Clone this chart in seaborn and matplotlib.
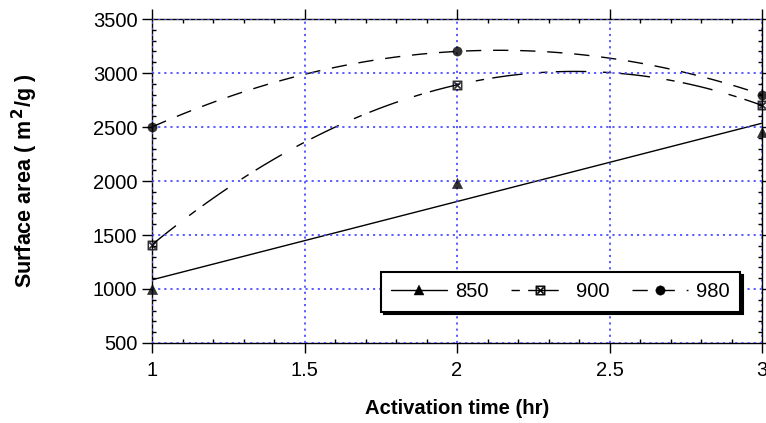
import matplotlib
matplotlib.use("Agg")
import matplotlib.pyplot as plt
from matplotlib.lines import Line2D
from matplotlib.ticker import MultipleLocator
import seaborn as sns
import pandas as pd

# ---- data ----
activation_time = [1, 2, 3]
area_850 = [1000, 1980, 2450]
area_900 = [1410, 2890, 2700]
area_980 = [2500, 3200, 2800]
series_names = ["850", "900", "980"]
fit_orders = [1, 2, 2]
x_ticks = [1, 1.5, 2, 2.5, 3]
y_ticks = [500, 1000, 1500, 2000, 2500, 3000, 3500]

sns.set_theme(style="white")
plt.rcParams["font.family"] = ["Liberation Sans", "DejaVu Sans"]
plt.rcParams["mathtext.fontset"] = "dejavusans"
plt.rcParams["text.color"] = "black"
plt.rcParams["axes.labelcolor"] = "black"
plt.rcParams["xtick.color"] = "black"
plt.rcParams["ytick.color"] = "black"

fig = plt.figure(figsize=(7.66, 4.23), dpi=100)
fig.subplots_adjust(left=152/766, right=762/766, top=1-19/423, bottom=1-343/423)
ax = fig.add_subplot(111)

styles = [
    dict(marker="^", s=55, ls="-", dashes=None, leg_offset=0),
    dict(marker=r"$\boxtimes$", s=45, ls="--", dashes=(22, 12, 6, 6), leg_offset=34),
    dict(marker="o", s=45, ls="--", dashes=(11, 8.5), leg_offset=0),
]
series = [area_850, area_900, area_980]

handles = []
for name, vals, order, st in zip(series_names, series, fit_orders, styles):
    df = pd.DataFrame({"t": activation_time, "a": vals})
    line_kws = dict(lw=1.0, color="black", linestyle=st["ls"])
    if st["dashes"] is not None:
        line_kws["dashes"] = st["dashes"]
    sns.regplot(data=df, x="t", y="a", order=order, ci=None, truncate=True,
                marker=st["marker"], color="black", ax=ax,
                scatter_kws=dict(s=st["s"], color="black", zorder=4, linewidths=0.3,
                                 clip_on=False),
                line_kws=line_kws)
    h = Line2D([], [], color="black", lw=1.0, linestyle=st["ls"],
               marker=st["marker"], markersize=(st["s"] ** 0.5),
               markerfacecolor="black", markeredgecolor="black", markeredgewidth=0.3)
    if st["dashes"] is not None:
        h.set_linestyle((st["leg_offset"], st["dashes"]))
    handles.append(h)

ax.set_xlim(1, 3)
ax.set_ylim(500, 3500)
ax.set_xticks(x_ticks)
ax.set_xticklabels([f"{v:g}" for v in x_ticks])
ax.set_yticks(y_ticks)
ax.xaxis.set_minor_locator(MultipleLocator(0.1))
ax.yaxis.set_minor_locator(MultipleLocator(100))

ax.grid(True, which="major", color="#5050ff", linestyle=(0, (1.2, 2.2)), lw=1.3)
ax.set_axisbelow(False)

for sp in ax.spines.values():
    sp.set_visible(True)
    sp.set_color("black")
    sp.set_linewidth(1.0)

ax.tick_params(which="major", direction="out", length=7, width=1, color="black",
               labelcolor="black", labelsize=14.5, top=True, right=True,
               bottom=True, left=True, labeltop=False, labelright=False)
ax.tick_params(axis="x", which="major", pad=6)
ax.tick_params(axis="y", which="major", pad=3.5)
ax.tick_params(which="minor", direction="in", length=3, width=1, color="black",
               top=True, right=True, bottom=True, left=True)

ax.set_xlabel("Activation time (hr)", fontsize=14.6, fontweight="bold", labelpad=14,
              color="black")
ax.set_ylabel("Surface area ( m$^{\\,\\mathbf{2}}$/g )", fontsize=15.5, fontweight="bold",
              labelpad=38, color="black")

leg = ax.legend(handles, series_names, ncol=3, loc="center",
                bbox_to_anchor=(0.375, 0.093, 0.589, 0.129), mode="expand",
                borderaxespad=0,
                fontsize=14.5, frameon=True, fancybox=False, framealpha=1,
                edgecolor="black", handlelength=2.8, handletextpad=0.4,
                columnspacing=1.4, borderpad=0.5,
                shadow={"color": "black", "alpha": 1})
leg.get_frame().set_linewidth(1.5)
leg.set_zorder(5)
for t in leg.get_texts():
    t.set_color("black")

fig.savefig("out.png", dpi=100)
